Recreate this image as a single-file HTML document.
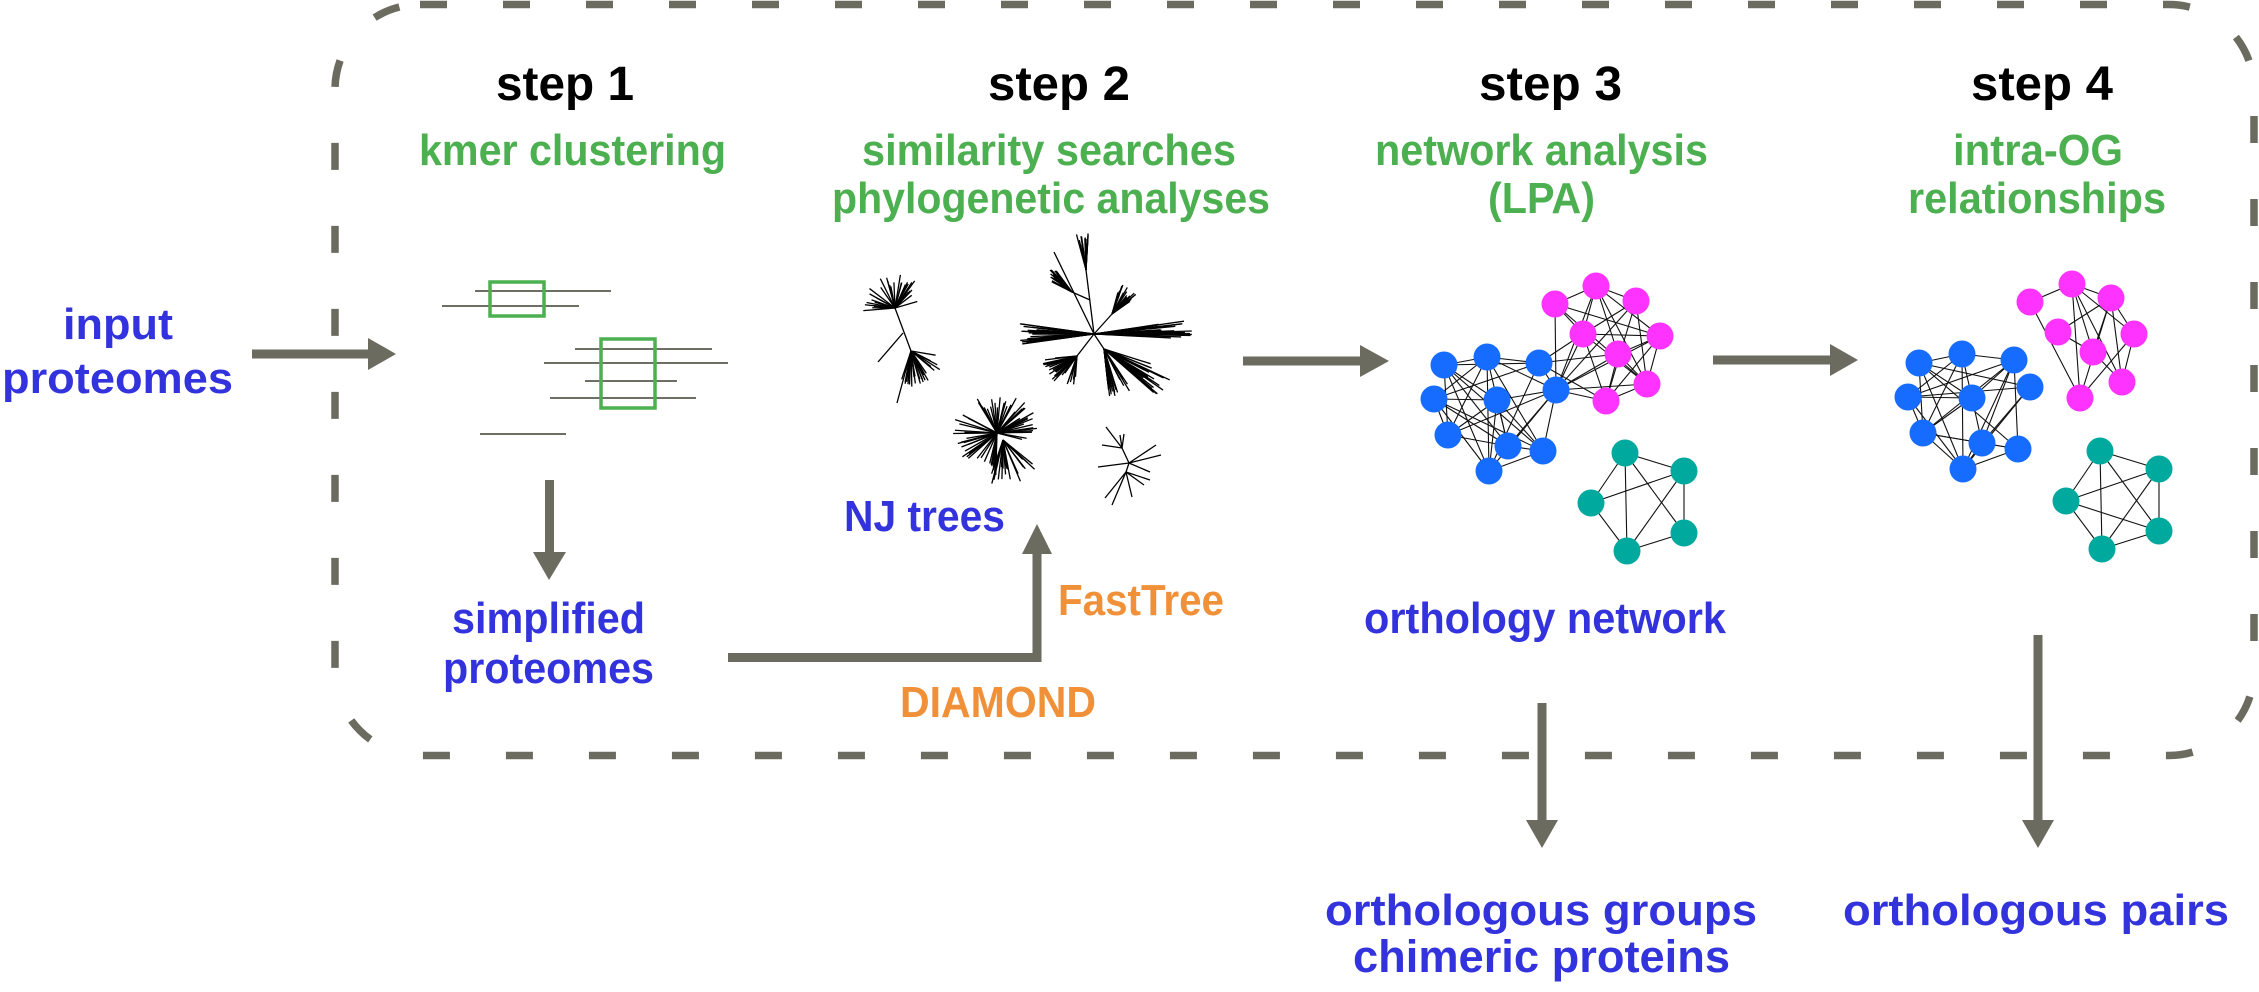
<!DOCTYPE html>
<html><head><meta charset="utf-8"><style>
html,body{margin:0;padding:0;background:#fff;}
svg{display:block;}
text{font-family:"Liberation Sans",Arial,sans-serif;font-weight:bold;}
</style></head><body>
<svg id="s" width="2259" height="992" viewBox="0 0 2259 992" xmlns="http://www.w3.org/2000/svg">
<rect x="335" y="4.5" width="1919" height="751" rx="85" ry="85" fill="none" stroke="#6b6b60" stroke-width="7.5" stroke-dasharray="27 56"/>

<g font-size="48" fill="#000" text-anchor="start">
<text x="496" y="100" textLength="138" lengthAdjust="spacingAndGlyphs">step 1</text>
<text x="988" y="100" textLength="142" lengthAdjust="spacingAndGlyphs">step 2</text>
<text x="1479" y="100" textLength="143" lengthAdjust="spacingAndGlyphs">step 3</text>
<text x="1971" y="100" textLength="142" lengthAdjust="spacingAndGlyphs">step 4</text>
</g>
<g font-size="44" fill="#4caf50">
<text x="419" y="165" textLength="307" lengthAdjust="spacingAndGlyphs">kmer clustering</text>
<text x="862" y="165" textLength="374" lengthAdjust="spacingAndGlyphs">similarity searches</text>
<text x="832" y="213" textLength="438" lengthAdjust="spacingAndGlyphs">phylogenetic analyses</text>
<text x="1375" y="165" textLength="333" lengthAdjust="spacingAndGlyphs">network analysis</text>
<text x="1488" y="213" textLength="107" lengthAdjust="spacingAndGlyphs">(LPA)</text>
<text x="1953" y="165" textLength="170" lengthAdjust="spacingAndGlyphs">intra-OG</text>
<text x="1908" y="213" textLength="258" lengthAdjust="spacingAndGlyphs">relationships</text>
</g>
<g font-size="44" fill="#3333dd">
<text x="63" y="339" textLength="110" lengthAdjust="spacingAndGlyphs">input</text>
<text x="2" y="393" textLength="231" lengthAdjust="spacingAndGlyphs">proteomes</text>
<text x="452" y="633" textLength="193" lengthAdjust="spacingAndGlyphs">simplified</text>
<text x="443" y="683" textLength="211" lengthAdjust="spacingAndGlyphs">proteomes</text>
<text x="844" y="531" textLength="161" lengthAdjust="spacingAndGlyphs">NJ trees</text>
<text x="1364" y="633" textLength="362" lengthAdjust="spacingAndGlyphs">orthology network</text>
<text x="1325" y="925" textLength="432" lengthAdjust="spacingAndGlyphs">orthologous groups</text>
<text x="1353" y="972" font-size="45" textLength="377" lengthAdjust="spacingAndGlyphs">chimeric proteins</text>
<text x="1843" y="925" textLength="386" lengthAdjust="spacingAndGlyphs">orthologous pairs</text>
</g>
<g font-size="44" fill="#f0913a">
<text x="1058" y="615" textLength="166" lengthAdjust="spacingAndGlyphs">FastTree</text>
<text x="900" y="717" textLength="196" lengthAdjust="spacingAndGlyphs">DIAMOND</text>
</g>

<g fill="#6b6b60" stroke="none">
<rect x="252" y="349.5" width="120" height="9"/><polygon points="368,338 396,354 368,370"/>
<rect x="545" y="480" width="9" height="75"/><polygon points="533,552 566,552 549,580"/>
<rect x="728" y="653" width="313" height="9"/><rect x="1032.5" y="550" width="9" height="112"/><polygon points="1022,554 1052,554 1037,524"/>
<rect x="1243" y="356.5" width="120" height="9"/><polygon points="1360,345 1389,361 1360,377"/>
<rect x="1713" y="355.5" width="120" height="9"/><polygon points="1830,344 1858,360 1830,376"/>
<rect x="1537.5" y="703" width="9" height="120"/><polygon points="1526,820 1558,820 1542,848"/>
<rect x="2033.5" y="635" width="9" height="188"/><polygon points="2022,820 2054,820 2038,848"/>
</g>

<g stroke="#6e6e64" stroke-width="2">
<line x1="475" y1="291" x2="611" y2="291"/>
<line x1="442" y1="306" x2="579" y2="306"/>
<line x1="575" y1="349" x2="712" y2="349"/>
<line x1="544" y1="363" x2="728" y2="363"/>
<line x1="585" y1="381" x2="677" y2="381"/>
<line x1="550" y1="398" x2="696" y2="398"/>
<line x1="480" y1="434" x2="566" y2="434"/>
</g>
<g fill="none" stroke="#4caf50" stroke-width="3.5">
<rect x="490" y="282" width="54" height="34"/>
<rect x="601" y="339" width="54" height="69"/>
</g>

<g id="trees" stroke="#000" stroke-width="1.3" fill="none"></g>
<g id="edges" stroke="#111" stroke-width="1.1"></g>
<g id="nodes"></g>
</svg>
<script>
(function(){
var NS="http://www.w3.org/2000/svg";
var seed=7;function r(){seed=(seed*16807)%2147483647;return seed/2147483647;}
var tg=document.getElementById('trees'),eg=document.getElementById('edges'),ng=document.getElementById('nodes');
function ln(g,x1,y1,x2,y2){var l=document.createElementNS(NS,'line');l.setAttribute('x1',x1);l.setAttribute('y1',y1);l.setAttribute('x2',x2);l.setAttribute('y2',y2);g.appendChild(l);}
function fan(cx,cy,ang,spread,len,n){for(var i=0;i<n;i++){var a=(ang+(r()-0.5)*spread)*Math.PI/180;var L=len*(0.6+0.4*r());ln(tg,cx,cy,cx+L*Math.cos(a),cy+L*Math.sin(a));}}
function br(x1,y1,x2,y2){ln(tg,x1,y1,x2,y2);}
var cx=1094,cy=334;
br(cx,cy,1054,252);br(cx,cy,1086,270);fan(1086,270,-95,20,38,16);br(1090,300,1072,292);fan(1072,292,-140,30,32,20);
br(cx,cy,1112,314);fan(1112,314,-55,40,32,22);
fan(cx,cy,180,16,75,30);
fan(cx,cy,-3,12,100,26);
br(cx,cy,1077,356);fan(1077,356,150,50,35,24);fan(1077,356,100,20,30,8);
br(cx,cy,1104,349);fan(1104,349,30,25,75,22);fan(1104,349,70,30,50,24);
fan(895,308,-100,170,34,32);br(895,308,911,351);br(903,333,878,362);
fan(911,351,60,110,36,28);br(911,351,897,403);
fan(997,433,-60,150,42,35);fan(997,433,150,120,45,30);fan(1003,440,70,80,45,20);
var sx=1129,sy=463;br(sx,sy,1122,448);br(1122,448,1106,427);br(1122,448,1102,445);br(1122,448,1120,435);br(1122,448,1124,434);
br(sx,sy,1156,445);br(sx,sy,1161,455);br(sx,sy,1098,467);br(sx,sy,1150,472);
br(sx,sy,1126,472);br(1126,472,1105,498);br(1126,472,1112,505);br(1126,472,1132,497);br(1126,472,1150,480);br(1126,472,1144,485);
function net(B,M,T,pb,pm,cross){
 function cl(A,p){for(var i=0;i<A.length;i++)for(var j=i+1;j<A.length;j++)if(r()<p)ln(eg,A[i][0],A[i][1],A[j][0],A[j][1]);}
 cl(B,pb);cl(M,pm);cl(T,0.95);
 if(cross){for(var k=0;k<cross.length;k++)for(var j=0;j<M.length;j++)if(r()<0.55)ln(eg,B[cross[k]][0],B[cross[k]][1],M[j][0],M[j][1]);}
 function dots(A,c){for(var i=0;i<A.length;i++){var e=document.createElementNS(NS,'circle');e.setAttribute('cx',A[i][0]);e.setAttribute('cy',A[i][1]);e.setAttribute('r',13.5);e.setAttribute('fill',c);ng.appendChild(e);}}
 dots(B,'#166cff');dots(M,'#ff33ff');dots(T,'#00a99d');
}
net([[1444,365],[1487,357],[1539,363],[1434,399],[1497,400],[1556,390],[1448,435],[1508,446],[1543,451],[1489,471]],
    [[1596,286],[1555,304],[1636,301],[1583,334],[1660,336],[1618,354],[1647,384],[1606,401]],
    [[1625,453],[1684,471],[1591,503],[1684,533],[1627,551]],0.7,0.8,[2,5]);
net([[1919,363],[1962,354],[2014,360],[1908,397],[1972,398],[2030,387],[1923,433],[1982,443],[2018,449],[1963,469]],
    [[2072,284],[2030,302],[2111,298],[2058,332],[2134,334],[2093,352],[2122,382],[2080,398]],
    [[2100,451],[2159,469],[2066,501],[2159,531],[2102,549]],0.6,0.65,null);
})();
</script>
</body></html>
